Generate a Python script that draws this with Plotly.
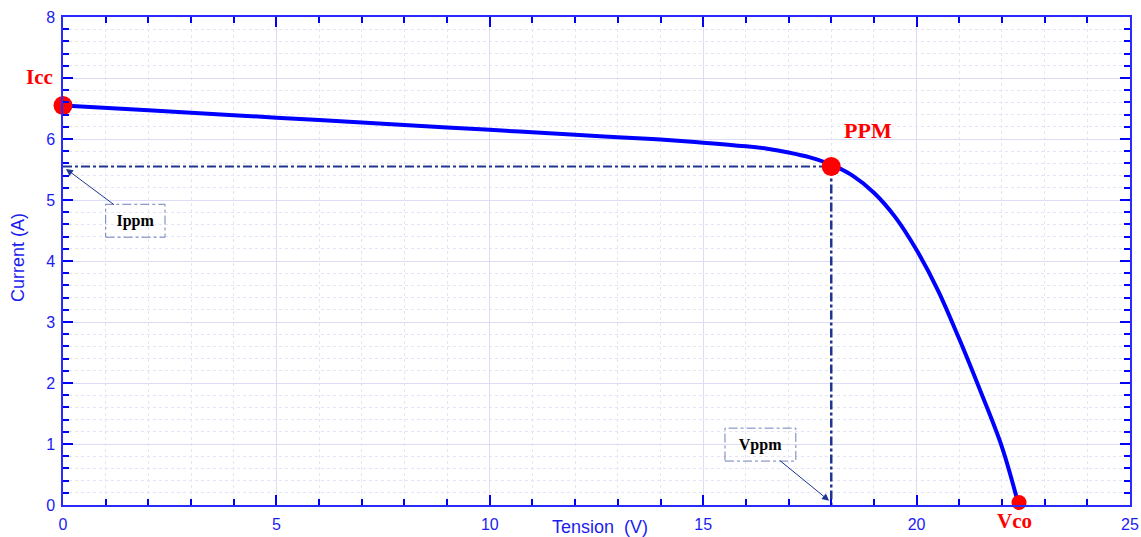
import plotly.graph_objects as go

# I-V curve data
voltage = [0, 2, 4, 6, 8, 10, 12, 13, 14, 15, 16, 16.5, 17.0, 17.5, 18.0, 18.5, 19.0, 19.5, 20.0, 20.5, 21.0, 21.5, 22.0, 22.36]
current = [6.55, 6.47, 6.39, 6.31, 6.23, 6.15, 6.07, 6.03, 5.99, 5.94, 5.88, 5.84, 5.78, 5.70, 5.58, 5.40, 5.12, 4.72, 4.18, 3.52, 2.72, 1.86, 0.95, 0.08]

# Key points
icc_v, icc_i = 0.0, 6.55
ppm_v, ppm_i = 18.0, 5.55
vco_v, vco_i = 22.4, 0.04

x_ticks = [0, 5, 10, 15, 20, 25]
x_tick_labels = ["0", "5", "10", "15", "20", "25"]
y_ticks = [0, 1, 2, 3, 4, 5, 6, 7, 8]
y_tick_labels = ["0", "1", "2", "3", "4", "5", "6", "", "8"]  # "7" is hidden behind the Icc label

BLUE = "#1c1cf0"
NAVY = "#1f3590"
RED = "#ff0000"

fig = go.Figure()

# dashed projection lines to PPM
fig.add_trace(go.Scatter(x=[0, ppm_v], y=[ppm_i, ppm_i], mode="lines",
                         line=dict(color=NAVY, width=2, dash="dashdot"), showlegend=False))
fig.add_trace(go.Scatter(x=[ppm_v, ppm_v], y=[ppm_i, 0], mode="lines",
                         line=dict(color=NAVY, width=2.5, dash="dashdot"), showlegend=False))

# I-V curve
fig.add_trace(go.Scatter(x=voltage, y=current, mode="lines",
                         line=dict(color="#0000ff", width=4, shape="spline", smoothing=1.0),
                         showlegend=False))

# key point markers
fig.add_trace(go.Scatter(x=[icc_v, ppm_v], y=[icc_i, ppm_i], mode="markers",
                         marker=dict(color=RED, size=19), cliponaxis=False, showlegend=False))
fig.add_trace(go.Scatter(x=[vco_v], y=[vco_i], mode="markers",
                         marker=dict(color=RED, size=15), cliponaxis=False, showlegend=False))

label_font = dict(family="Liberation Serif", color=RED, size=21)
box_font = dict(family="Liberation Serif", color="black", size=16)

# plot area in pixels: x 63..1130, y 17..505
def px(xp):
    return (xp - 63) / 1067.0

def py(yp):
    return (505 - yp) / 488.0

annotations = [
    dict(x=px(39), y=py(77), xref="paper", yref="paper", text="<b>Icc</b>", showarrow=False,
         font=label_font, xanchor="center", yanchor="middle"),
    dict(x=18.86, y=6.14, xref="x", yref="y", text="<b>PPM</b>", showarrow=False,
         font=dict(family="Liberation Serif", color=RED, size=22), xanchor="center", yanchor="middle"),
    dict(x=px(1014), y=py(521), xref="paper", yref="paper", text="<b>Vco</b>", showarrow=False,
         font=label_font, xanchor="center", yanchor="middle"),
    # Ippm callout
    dict(x=0.07, y=5.51, xref="x", yref="y", ax=1.70, ay=4.66, axref="x", ayref="y",
         text="<b>Ippm</b>", font=box_font, showarrow=True, arrowhead=2, arrowsize=1.4,
         arrowwidth=1, arrowcolor=NAVY, width=57, height=31, borderpad=0),
    # Vppm callout
    dict(x=17.95, y=0.07, xref="x", yref="y", ax=16.34, ay=0.99, axref="x", ayref="y",
         text="<b>Vppm</b>", font=box_font, showarrow=True, arrowhead=2, arrowsize=1.4,
         arrowwidth=1, arrowcolor=NAVY, width=69, height=31, borderpad=0),
    # axis titles
    dict(x=px(600), y=py(527), xref="paper", yref="paper", text="Tension  (V)", showarrow=False,
         font=dict(family="Liberation Sans", color=BLUE, size=18), xanchor="center", yanchor="middle"),
    dict(x=px(18), y=py(258), xref="paper", yref="paper", text="Current (A)", showarrow=False,
         textangle=-90, font=dict(family="Liberation Sans", color=BLUE, size=18),
         xanchor="center", yanchor="middle"),
]

shapes = [
    dict(type="rect", xref="x", yref="y", x0=1.0, x1=2.39, y0=4.39, y1=4.93,
         line=dict(color="#7080b8", width=1, dash="dashdot"), layer="above"),
    dict(type="rect", xref="x", yref="y", x0=15.51, x1=17.17, y0=0.72, y1=1.26,
         line=dict(color="#7080b8", width=1, dash="dashdot"), layer="above"),
]

fig.update_layout(
    width=1141, height=537,
    margin=dict(l=63, r=11, t=17, b=32, autoexpand=False),
    paper_bgcolor="white", plot_bgcolor="white",
    annotations=annotations, shapes=shapes,
    showlegend=False,
)

axis_common = dict(
    showline=True, linecolor="#2a2aff", linewidth=1.5, mirror="allticks",
    ticks="inside", ticklen=10, tickwidth=1.5, tickcolor="#0000ff",
    tickfont=dict(family="Liberation Sans", color=BLUE, size=16),
    showgrid=True, gridcolor="#dcdcf6", gridwidth=1,
    zeroline=False, automargin=False,
)

fig.update_xaxes(range=[0, 25], tickvals=x_ticks, ticktext=x_tick_labels,
                 ticklabelstandoff=4,
                 minor=dict(dtick=1, ticks="inside", ticklen=6, tickcolor="#0000ff",
                            showgrid=True, gridcolor="#e4e4f6", griddash="dot", gridwidth=1),
                 **axis_common)
fig.update_yaxes(range=[0, 8], tickvals=y_ticks, ticktext=y_tick_labels,
                 ticklabelstandoff=3,
                 minor=dict(dtick=0.2, ticks="inside", ticklen=6, tickcolor="#0000ff",
                            showgrid=True, gridcolor="#e4e4f6", griddash="dot", gridwidth=1),
                 **axis_common)

fig.write_html("out.html")
